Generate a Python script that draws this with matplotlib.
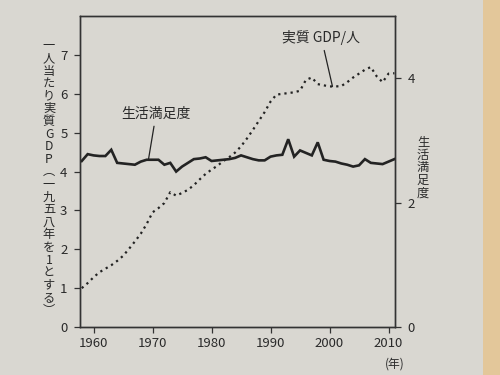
import matplotlib
matplotlib.use("Agg")
import matplotlib.pyplot as plt
from matplotlib.patches import Rectangle

plt.rcParams['font.family'] = ['Noto Sans CJK JP', 'DejaVu Sans']

years = list(range(1958, 2012))

# 一人当たり実質GDP (1958年=1)
gdp = [1.00, 1.13, 1.28, 1.41, 1.50, 1.59, 1.70, 1.83, 2.01, 2.20,
       2.40, 2.65, 2.95, 3.06, 3.19, 3.47, 3.38, 3.45, 3.53, 3.65,
       3.80, 3.94, 4.05, 4.15, 4.27, 4.37, 4.49, 4.65, 4.85, 5.07,
       5.30, 5.53, 5.80, 5.98, 6.00, 6.02, 6.04, 6.08, 6.36, 6.42,
       6.25, 6.22, 6.19, 6.19, 6.20, 6.30, 6.42, 6.52, 6.62, 6.69,
       6.45, 6.30, 6.52, 6.53]

# 生活満足度
satisfaction = [2.67, 2.78, 2.76, 2.75, 2.75, 2.85, 2.64, 2.63, 2.62, 2.61,
                2.66, 2.69, 2.69, 2.69, 2.61, 2.64, 2.50, 2.58, 2.64, 2.70,
                2.71, 2.73, 2.67, 2.68, 2.69, 2.70, 2.72, 2.76, 2.73, 2.70,
                2.68, 2.68, 2.74, 2.76, 2.77, 3.02, 2.74, 2.84, 2.80, 2.76,
                2.97, 2.69, 2.67, 2.66, 2.63, 2.61, 2.58, 2.60, 2.70, 2.64,
                2.63, 2.62, 2.66, 2.70]

x_ticks = [1960, 1970, 1980, 1990, 2000, 2010]
left_ticks = [0, 1, 2, 3, 4, 5, 6, 7]
right_ticks = [0, 2, 4]

left_label = "一人当たり実質GDP︵一九五八年を1とする︶"
right_label = "生活満足度"
gdp_name = "実質 GDP/人"
sat_name = "生活満足度"

bg = "#d9d7d1"
ink = "#232323"

fig = plt.figure(figsize=(5, 3.75), dpi=100)
fig.patch.set_facecolor(bg)
fig.patches.append(Rectangle((0.965, 0), 0.035, 1, transform=fig.transFigure,
                             facecolor="#e3c79a", edgecolor="none", zorder=-1))

ax = fig.add_axes([0.16, 0.128, 0.63, 0.829])
ax.set_facecolor(bg)
ax2 = ax.twinx()

ax.plot(years, gdp, color=ink, lw=1.6, linestyle=(0, (1, 1.8)))
ax2.plot(years, satisfaction, color=ink, lw=1.9, solid_joinstyle='miter')

ax.set_xlim(1957.7, 2011.1)
ax.set_ylim(0, 8)
ax2.set_ylim(0, 5)

ax.set_xticks(x_ticks)
ax.set_yticks(left_ticks)
ax2.set_yticks(right_ticks)

for a in (ax, ax2):
    for s in a.spines.values():
        s.set_color("#333333")
        s.set_linewidth(1.0)
    a.tick_params(colors="#333333", labelcolor="#2a2a2a", labelsize=9.5,
                  length=4, width=0.9, direction='out', pad=5)
ax.tick_params(axis='x', pad=3)

# vertical axis labels (tategaki)
fig.text(0.098, 0.525, "\n".join(left_label), ha='center', va='center',
         fontsize=8.8, color="#2a2a2a", linespacing=0.96)
fig.text(0.846, 0.553, "\n".join(right_label), ha='center', va='center',
         fontsize=8.8, color="#2a2a2a", linespacing=0.96)
fig.text(0.79, 0.028, "(年)", ha='center', va='center', fontsize=8.5,
         color="#2a2a2a")

ax.annotate(gdp_name, xy=(2000.5, 6.19), xytext=(1998.6, 7.45),
            ha='center', va='center', fontsize=10, color="#2a2a2a",
            arrowprops=dict(arrowstyle='-', color=ink, lw=0.9,
                            shrinkA=2, shrinkB=0))
ax2.annotate(sat_name, xy=(1969.3, 2.69), xytext=(1970.6, 3.43),
             ha='center', va='center', fontsize=10, color="#2a2a2a",
             arrowprops=dict(arrowstyle='-', color=ink, lw=0.9,
                             shrinkA=2, shrinkB=0))

fig.savefig("out.png", dpi=100, facecolor=fig.get_facecolor())
